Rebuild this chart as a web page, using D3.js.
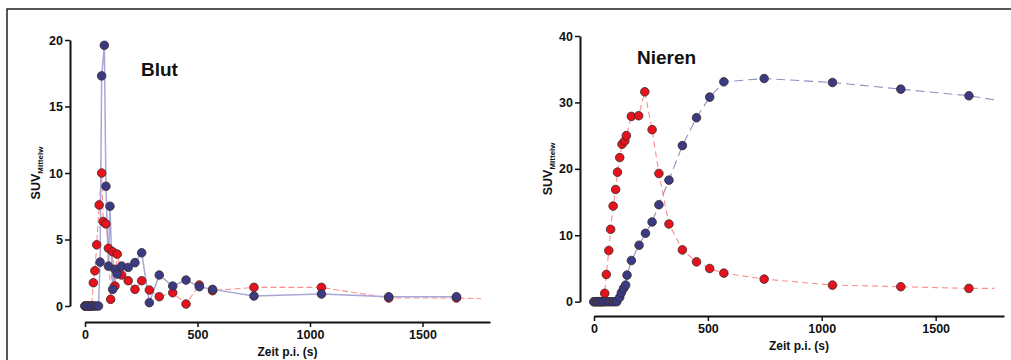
<!DOCTYPE html>
<html>
<head>
<meta charset="utf-8">
<script src="https://cdn.jsdelivr.net/npm/d3@7"></script>
<style>
  body { margin: 0; background: #fff; }
  svg text { font-family: "Liberation Sans", Arial, sans-serif; font-weight: bold; fill: #111; }
</style>
</head>
<body>
<div id="chart"></div>
<script>
var svgWidth = 1011;
var svgHeight = 360;

// shared axis ticks
var xTicks = [0, 500, 1000, 1500];
var blutYTicks = [0, 5, 10, 15, 20];
var nierenYTicks = [0, 10, 20, 30, 40];

// Blut - blue series (time in s, SUV)
var blutBlueTime = [0, 10, 20, 30, 40, 50, 60, 67, 74, 86, 93, 104, 111, 123, 133, 143, 163, 192, 222, 252, 286, 330, 390, 449, 508, 567, 751, 1051, 1350, 1651];
var blutBlueSuv  = [0, 0, 0, 0, 0, 0, 0, 3.3, 17.3, 19.6, 9.0, 3.0, 7.5, 1.25, 2.76, 2.4, 3.0, 2.9, 3.26, 4.0, 0.25, 2.33, 1.5, 1.95, 1.45, 1.25, 0.75, 0.9, 0.7, 0.7];

// Blut - red series
var blutRedTime = [0, 10, 20, 30, 37, 44, 52, 63, 74, 81, 93, 104, 114, 123, 133, 143, 163, 192, 222, 252, 286, 330, 390, 449, 508, 567, 751, 1051, 1350, 1651];
var blutRedSuv  = [0, 0, 0, 0, 1.75, 2.65, 4.6, 7.6, 10.0, 6.35, 6.17, 4.34, 0.5, 4.08, 1.5, 3.9, 2.33, 1.9, 1.25, 1.9, 1.2, 0.7, 1.0, 0.15, 1.58, 1.15, 1.4, 1.4, 0.6, 0.6];
var blutRedTail = [1760, 0.55];

// Nieren - blue series
var nierenBlueTime = [0, 10, 20, 30, 40, 50, 60, 70, 80, 90, 100, 113, 120, 130, 139, 145, 164, 198, 226, 255, 285, 329, 388, 450, 508, 570, 747, 1047, 1347, 1646];
var nierenBlueSuv  = [0, 0, 0, 0, 0, 0, 0, 0, 0, 0, 0, 0.66, 1.36, 2.0, 2.5, 4.0, 6.2, 8.5, 10.3, 12.0, 14.6, 18.3, 23.5, 27.7, 30.8, 33.1, 33.6, 33.0, 32.0, 31.0];
var nierenBlueTail = [1757, 30.4];

// Nieren - red series
var nierenRedTime = [0, 10, 20, 30, 40, 47, 54, 65, 73, 84, 95, 103, 113, 123, 135, 142, 164, 196, 223, 255, 285, 329, 388, 450, 508, 570, 747, 1047, 1347, 1646];
var nierenRedSuv  = [0, 0, 0, 0, 0, 1.26, 4.1, 7.7, 10.9, 14.4, 16.9, 19.5, 21.7, 23.7, 24.2, 25.0, 27.9, 28.0, 31.6, 25.9, 19.3, 11.7, 7.8, 6.0, 5.0, 4.3, 3.4, 2.5, 2.26, 2.0];
var nierenRedTail = [1757, 2.0];

var svg = d3.select("#chart")
  .append("svg")
  .attr("width", svgWidth)
  .attr("height", svgHeight);

// outer frame
svg.append("rect")
  .attr("x", 7).attr("y", 9)
  .attr("width", 1010).attr("height", 370)
  .attr("fill", "none")
  .attr("stroke", "#222")
  .attr("stroke-width", 1.5);

function toPoints(times, values) {
  return times.map((t, i) => ({ t: t, v: values[i] }));
}

function drawPanel(cfg) {
  var x = d3.scaleLinear().domain([0, 1800]).range(cfg.xRange);
  var y = d3.scaleLinear().domain(cfg.yDomain).range(cfg.yRange);
  var g = svg.append("g");

  // x axis (offset below plot)
  var xAxis = g.append("g")
    .attr("transform", `translate(0, ${cfg.xAxisY})`)
    .call(d3.axisBottom(x).tickValues(xTicks).tickFormat(d3.format("d"))
      .tickSize(5).tickSizeOuter(0).tickPadding(3));

  // y axis
  var yAxis = g.append("g")
    .attr("transform", `translate(${cfg.yAxisX}, 0)`)
    .call(d3.axisLeft(y).tickValues(cfg.yTicks).tickSize(5).tickSizeOuter(0).tickPadding(2));

  [xAxis, yAxis].forEach(function(a) {
    a.select(".domain").attr("stroke", "#111").attr("stroke-width", 2);
    a.selectAll(".tick line").attr("stroke", "#111").attr("stroke-width", 1.5);
    a.selectAll(".tick text").style("font-size", "12.5px").attr("fill", "#111");
  });

  // axis titles
  g.append("text")
    .attr("x", (cfg.xRange[0] + cfg.xRange[1]) / 2)
    .attr("y", cfg.xAxisY + 34)
    .attr("text-anchor", "middle")
    .style("font-size", "12px")
    .text("Zeit p.i. (s)");

  var yl = g.append("text")
    .attr("transform", `translate(${cfg.yLabelX}, ${(cfg.yRange[0] + cfg.yRange[1]) / 2}) rotate(-90)`)
    .attr("text-anchor", "middle")
    .style("font-size", "12.5px");
  yl.append("tspan").text("SUV");
  yl.append("tspan").attr("dy", 3).style("font-size", "8px").text("Mittelw");

  // panel title
  g.append("text")
    .attr("x", cfg.titleX).attr("y", cfg.titleY)
    .style("font-size", "19px")
    .text(cfg.title);

  var line = d3.line().x(d => x(d.t)).y(d => y(d.v));

  cfg.series.forEach(function(s) {
    var pts = toPoints(s.time, s.values);
    var linePts = s.tail ? pts.concat([{ t: s.tail[0], v: s.tail[1] }]) : pts;
    g.append("path")
      .datum(linePts)
      .attr("d", line)
      .attr("fill", "none")
      .attr("stroke", s.lineColor)
      .attr("stroke-width", s.lineWidth)
      .attr("stroke-dasharray", s.dash);
  });

  cfg.series.forEach(function(s) {
    var pts = toPoints(s.time, s.values);
    g.append("g").selectAll("circle")
      .data(pts)
      .enter()
      .append("circle")
      .attr("cx", d => x(d.t))
      .attr("cy", d => y(d.v))
      .attr("r", 4.3)
      .attr("fill", s.color)
      .attr("stroke", "#3a2a2a")
      .attr("stroke-width", 0.8);
  });
}

drawPanel({
  title: "Blut", titleX: 141, titleY: 76,
  xRange: [85, 490], yDomain: [0, 20], yRange: [306, 40], yTicks: blutYTicks,
  xAxisY: 322, yAxisX: 70, yLabelX: 40,
  series: [
    { time: blutRedTime, values: blutRedSuv, tail: blutRedTail, color: "#e8121c", lineColor: "#ff8c8c", lineWidth: 1.1, dash: "6,3" },
    { time: blutBlueTime, values: blutBlueSuv, tail: null, color: "#3b3b84", lineColor: "#a8a8d6", lineWidth: 1.5, dash: null }
  ]
});

drawPanel({
  title: "Nieren", titleX: 637, titleY: 64,
  xRange: [594, 1004], yDomain: [0, 40], yRange: [301.7, 36], yTicks: nierenYTicks,
  xAxisY: 316, yAxisX: 580, yLabelX: 552,
  series: [
    { time: nierenRedTime, values: nierenRedSuv, tail: nierenRedTail, color: "#e8121c", lineColor: "#ff8c8c", lineWidth: 1.1, dash: "6,4" },
    { time: nierenBlueTime, values: nierenBlueSuv, tail: nierenBlueTail, color: "#3b3b84", lineColor: "#9090c0", lineWidth: 1.1, dash: "9,5" }
  ]
});
</script>
</body>
</html>
